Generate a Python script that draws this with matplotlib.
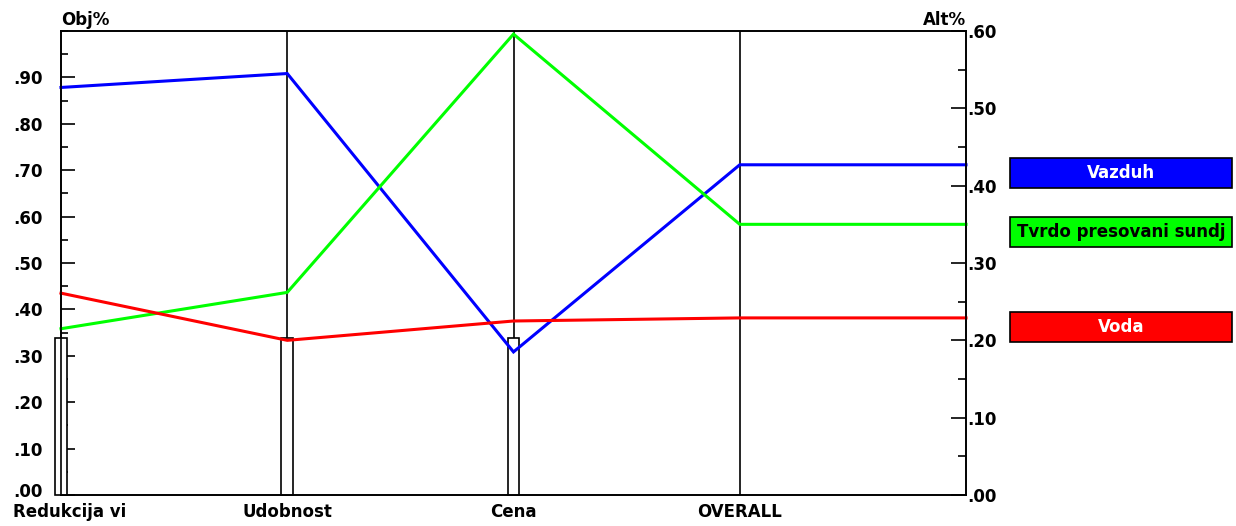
import numpy as np
import matplotlib
matplotlib.use("Agg")
import matplotlib.pyplot as plt
from matplotlib.patches import Rectangle
from matplotlib.ticker import MultipleLocator, FixedLocator
from matplotlib.transforms import ScaledTranslation

plt.rcParams['font.family'] = ['DejaVu Sans']
plt.rcParams['font.weight'] = 'bold'

# criteria along x (last one is the overall result)
criteria = ["Redukcija vi", "Udobnost", "Cena", "OVERALL"]
# criterion weights (Obj%) drawn as the narrow bars
weights = [0.339, 0.339, 0.339]

alternatives = ["Vazduh", "Tvrdo presovani sundj", "Voda"]
colors = ["#0000ff", "#00ff00", "#ff0000"]
# alternative scores (Alt%) per criterion + overall
vazduh = [0.527, 0.545, 0.185, 0.427]
sundj = [0.215, 0.262, 0.596, 0.350]
voda = [0.261, 0.200, 0.225, 0.229]
scores = [vazduh, sundj, voda]

obj_ticks = [0.0, 0.1, 0.2, 0.3, 0.4, 0.5, 0.6, 0.7, 0.8, 0.9]
obj_labels = [".00", ".10", ".20", ".30", ".40", ".50", ".60", ".70", ".80", ".90"]
alt_ticks = [0.0, 0.1, 0.2, 0.3, 0.4, 0.5, 0.6]
alt_labels = [".00", ".10", ".20", ".30", ".40", ".50", ".60"]

W, H = 1236, 526
fig = plt.figure(figsize=(W / 100, H / 100), dpi=100)
ax = fig.add_axes([61 / W, 31 / H, 905 / W, 464 / H])
ax2 = ax.twinx()

x = np.arange(len(criteria))
xmax = len(criteria)

# vertical criterion lines
for xi in x[1:]:
    ax.axvline(xi, color="black", lw=1.2, zorder=1)

# weight bars (drawn over the left spine too)
ax.bar(x[:len(weights)], weights, width=0.052, color="white",
       edgecolor="black", linewidth=1.2, zorder=3, clip_on=False)

ax.set_xlim(0, xmax)
ax.set_ylim(0, 1.0)
ax2.set_ylim(0, 0.6)

# alternative lines: criterion values, then flat to right edge
for vals, c in zip(scores, colors):
    xs = list(x) + [xmax]
    ys = list(vals) + [vals[-1]]
    ax2.plot(xs, ys, color=c, lw=2.2, solid_joinstyle="miter", clip_on=False)

# axis cosmetics
for a in (ax, ax2):
    for s in a.spines.values():
        s.set_linewidth(1.2)
        s.set_color("black")

ax.set_xticks(x)
ax.set_xticklabels(criteria, fontsize=12, fontweight="bold")
ax.tick_params(axis="x", length=0, pad=6)
# first label sits to the right of the left axis edge
first = ax.get_xticklabels()[0]
first.set_transform(first.get_transform() + ScaledTranslation(0.09, 0, fig.dpi_scale_trans))

ax.yaxis.set_major_locator(FixedLocator(obj_ticks))
ax.set_yticklabels(obj_labels, fontsize=12, fontweight="bold")
ax.yaxis.set_minor_locator(MultipleLocator(0.05))
ax.tick_params(axis="y", which="major", direction="in", length=10, width=1.2, pad=13)
ax.tick_params(axis="y", which="minor", direction="in", length=5, width=1.2)
# the .00 label is lifted a little above the corner
zero = ax.get_yticklabels()[0]
zero.set_transform(zero.get_transform() + ScaledTranslation(0, 0.05, fig.dpi_scale_trans))

ax2.yaxis.set_major_locator(FixedLocator(alt_ticks))
ax2.set_yticklabels(alt_labels, fontsize=12, fontweight="bold")
ax2.yaxis.set_minor_locator(MultipleLocator(0.05))
ax2.tick_params(axis="y", which="major", direction="in", length=11, width=1.2, pad=1)
ax2.tick_params(axis="y", which="minor", direction="in", length=6, width=1.2)

ax.text(0, 1.005, "Obj%", transform=ax.transAxes, ha="left", va="bottom",
        fontsize=12, fontweight="bold")
ax.text(1, 1.005, "Alt%", transform=ax.transAxes, ha="right", va="bottom",
        fontsize=12, fontweight="bold")

# legend boxes on the right
box_tops = [158, 217, 312]
text_colors = ["white", "black", "white"]
for name, c, top, tc in zip(alternatives, colors, box_tops, text_colors):
    bx, bw, bh = 1010, 222, 30
    rect = Rectangle((bx / W, 1 - (top + bh) / H), bw / W, bh / H,
                     transform=fig.transFigure, facecolor=c,
                     edgecolor="black", linewidth=1.2)
    fig.add_artist(rect)
    fig.text((bx + bw / 2) / W, 1 - (top + bh / 2) / H, name, ha="center",
             va="center", color=tc, fontsize=12, fontweight="bold")

fig.savefig("out.png", dpi=100)
